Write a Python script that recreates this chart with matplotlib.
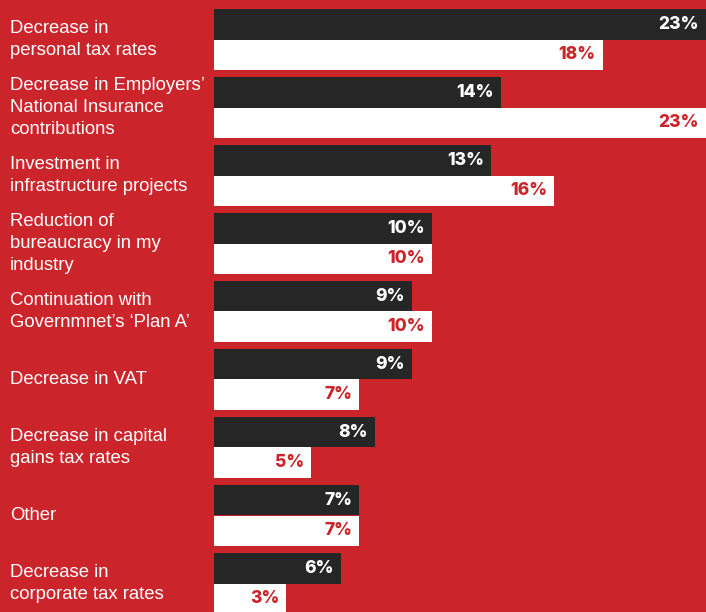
import numpy as np
import matplotlib.pyplot as plt
from matplotlib.transforms import blended_transform_factory

# survey answers, top to bottom
categories = [
    "Decrease in\npersonal tax rates",
    "Decrease in Employers\u2019\nNational Insurance\ncontributions",
    "Investment in\ninfrastructure projects",
    "Reduction of\nbureaucracy in my\nindustry",
    "Continuation with\nGovernmnet\u2019s \u2018Plan A\u2019",
    "Decrease in VAT",
    "Decrease in capital\ngains tax rates",
    "Other",
    "Decrease in\ncorporate tax rates",
]
# printed labels (%)
dark_labels = [23, 14, 13, 10, 9, 9, 8, 7, 6]
white_labels = [18, 23, 16, 10, 10, 7, 5, 7, 3]
# bar lengths (%)
dark_values = [23.0, 13.4, 12.95, 10.18, 9.26, 9.26, 7.53, 6.78, 5.94]
white_values = [18.17, 23.0, 15.9, 10.18, 10.18, 6.78, 4.53, 6.78, 3.37]

red = '#cb252b'
dark = '#262626'

fig = plt.figure(figsize=(7.06, 6.12), dpi=100, facecolor=red)
ax = fig.add_axes([214 / 706, 0, 492 / 706, 1])
ax.set_facecolor(red)

y = np.arange(len(categories))
h = 30.5 / 68
y_dark = y + 24.25 / 68
y_white = y + 54.75 / 68
ax.barh(y_dark, dark_values, height=h, color=dark)
ax.barh(y_white, white_values, height=h, color='white')

for v, lab, yy in zip(dark_values, dark_labels, y_dark):
    ax.annotate(f'{lab}%', xy=(v, yy), xytext=(-7, 0), textcoords='offset pixels',
                ha='right', va='center', color='white', fontsize=12.5,
                fontweight='heavy', family='Inter')
for v, lab, yy in zip(white_values, white_labels, y_white):
    ax.annotate(f'{lab}%', xy=(v, yy), xytext=(-7, 0), textcoords='offset pixels',
                ha='right', va='center', color=red, fontsize=12.5,
                fontweight='heavy', family='Inter')

# category names on the left, centred on each pair of bars
tr = blended_transform_factory(fig.transFigure, ax.transData)
for cat, yy in zip(categories, y + 39.5 / 68):
    ax.text(10 / 706, yy, cat, transform=tr, ha='left', va='center',
            color='white', fontsize=13.3, family='Liberation Sans', linespacing=1.35)

ax.set_xlim(0, 23)
ax.set_ylim(9.0, 0)
ax.axis('off')

fig.savefig('out.png', dpi=100, facecolor=red)
